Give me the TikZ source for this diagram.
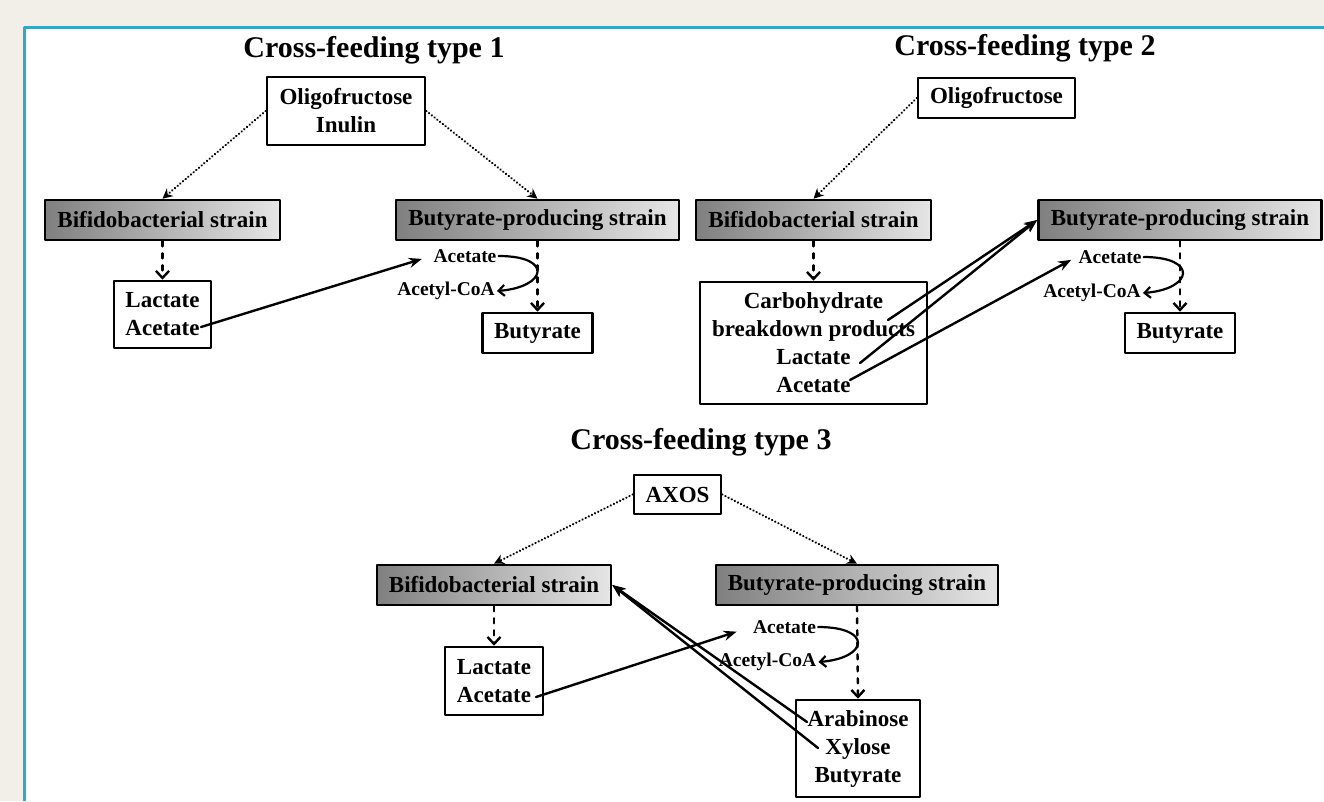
\documentclass[tikz,border=0pt]{standalone}
\usepackage{fontspec}
\setmainfont{Liberation Serif}
\usetikzlibrary{arrows.meta}
\definecolor{panelblue}{RGB}{30,174,214}
\definecolor{pagebeige}{RGB}{242,239,232}
\newcommand{\boxfont}{\fontsize{23}{28}\selectfont\bfseries}
\newcommand{\lblfont}{\fontsize{19.5}{22}\selectfont\bfseries}
\newcommand{\ttlfont}{\fontsize{30}{34}\selectfont\bfseries}

\begin{document}
\begin{tikzpicture}[x=1pt, y=-1pt, line join=round, line cap=round,
    box/.style={draw, line width=2.6pt, fill=white, inner sep=0pt, align=center, font=\boxfont},
    strain/.style={box, left color=black!50, right color=black!10, minimum width=283pt, minimum height=40pt},
    lbl/.style={font=\lblfont, inner sep=2pt},
    ttl/.style={font=\ttlfont},
    feed/.style={line width=2.4pt, dash pattern=on 0.1pt off 3.4pt, -{Stealth[length=10pt,width=10pt]}},
    stepline/.style={line width=2.4pt, dash pattern=on 5pt off 7pt, -{Straight Barb[length=7pt,width=13pt]}},
    flow/.style={line width=2.4pt, -{Stealth[length=13pt,width=10pt]}},
    loopy/.style={line width=2.2pt, -{Straight Barb[length=6pt,width=11pt]}}]
                \useasboundingbox (0,0) rectangle (1324,801);
                \fill[pagebeige] (0,0) rectangle (1324,801);
                \fill[white] (24,27) rectangle (1324,801);
                \draw[panelblue, line width=3pt, line cap=butt] (24,801) -- (24,27) -- (1324,27);
                % type 1
                \node[ttl] (t1) at (374,50) {Cross-feeding type 1};
                \node[box, minimum width=158pt, minimum height=68pt] (o1) at (346,111) {Oligofructose\\Inulin};
                \node[strain, minimum width=235pt] (bf1) at (162.5,220) {Bifidobacterial strain};
                \node[strain] (bp1) at (537.5,220) {Butyrate-producing strain};
                \node[box, minimum width=97pt, minimum height=67pt] (la1) at (162.5,314.5) {Lactate\\Acetate};
                \node[box, minimum width=110pt, minimum height=40pt] (bu1) at (537.5,333) {Butyrate};
                \node[lbl] (ac1) at (465,256) {Acetate};
                \node[lbl] (co1) at (446,291) {Acetyl-CoA};
                \coordinate (la1a) at (201,327);
                \draw[feed] (o1.west) -- (bf1.north);
                \draw[feed] (o1.east) -- (bp1.north);
                \draw[stepline] (bf1.south) -- (la1.north);
                \draw[stepline] (bp1.south) -- (bu1.north);
                \draw[flow, shorten >=10pt] (la1a) -- (ac1.west);
                \draw[loopy] (ac1.east) .. controls +(55,0) and +(50,-4) .. (co1.east);
                % type 2
                \node[ttl] (t2) at (1025,48) {Cross-feeding type 2};
                \node[box, minimum width=157pt, minimum height=40pt] (o2) at (996.5,98) {Oligofructose};
                \node[strain, minimum width=235pt] (bf2) at (813.5,220) {Bifidobacterial strain};
                \node[strain] (bp2) at (1180,220) {Butyrate-producing strain};
                \node[box, minimum width=227pt, minimum height=122pt] (cb2) at (813.5,343) {Carbohydrate\\breakdown products\\Lactate\\Acetate};
                \node[box, minimum width=110pt, minimum height=40pt] (bu2) at (1180,333) {Butyrate};
                \node[lbl] (ac2) at (1110,257) {Acetate};
                \node[lbl] (co2) at (1092,293) {Acetyl-CoA};
                \coordinate (cb2a) at (888,320);
                \coordinate (cb2b) at (860,363);
                \coordinate (cb2c) at (850,380);
                \draw[feed] (o2.west) -- (bf2.north);
                \draw[stepline] (bf2.south) -- (cb2.north);
                \draw[stepline] (bp2.south) -- (bu2.north);
                \draw[flow] (cb2a) -- (bp2.west);
                \draw[flow] (cb2b) -- (bp2.west);
                \draw[flow, shorten >=6pt] (cb2c) -- (ac2.west);
                \draw[loopy] (ac2.east) .. controls +(55,0) and +(50,-4) .. (co2.east);
                % type 3
                \node[ttl] (t3) at (701,442) {Cross-feeding type 3};
                \node[box, minimum width=87pt, minimum height=39pt] (ax3) at (677.5,494.5) {AXOS};
                \node[strain, minimum width=234pt] (bf3) at (494,585) {Bifidobacterial strain};
                \node[strain, minimum width=282pt] (bp3) at (857,585) {Butyrate-producing strain};
                \node[box, minimum width=98pt, minimum height=68pt] (la3) at (494,681) {Lactate\\Acetate};
                \node[box, minimum width=124pt, minimum height=97pt] (ab3) at (858,748.5) {Arabinose\\Xylose\\Butyrate};
                \node[lbl] (ac3) at (784.5,627) {Acetate};
                \node[lbl] (co3) at (767.5,662) {Acetyl-CoA};
                \coordinate (la3a) at (536,697);
                \coordinate (ab3a) at (807,722);
                \coordinate (ab3b) at (818,748);
                \draw[feed] (ax3.west) -- (bf3.north);
                \draw[feed] (ax3.east) -- (bp3.north);
                \draw[stepline] (bf3.south) -- (la3.north);
                \draw[stepline] (bp3.south) -- (ab3.north);
                \draw[flow, shorten >=15pt] (la3a) -- (ac3.west);
                \draw[loopy] (ac3.east) .. controls +(55,0) and +(50,-4) .. (co3.east);
                \draw[flow] (ab3a) -- (bf3.east);
                \draw[flow] (ab3b) -- (bf3.east);
\end{tikzpicture}
\end{document}
